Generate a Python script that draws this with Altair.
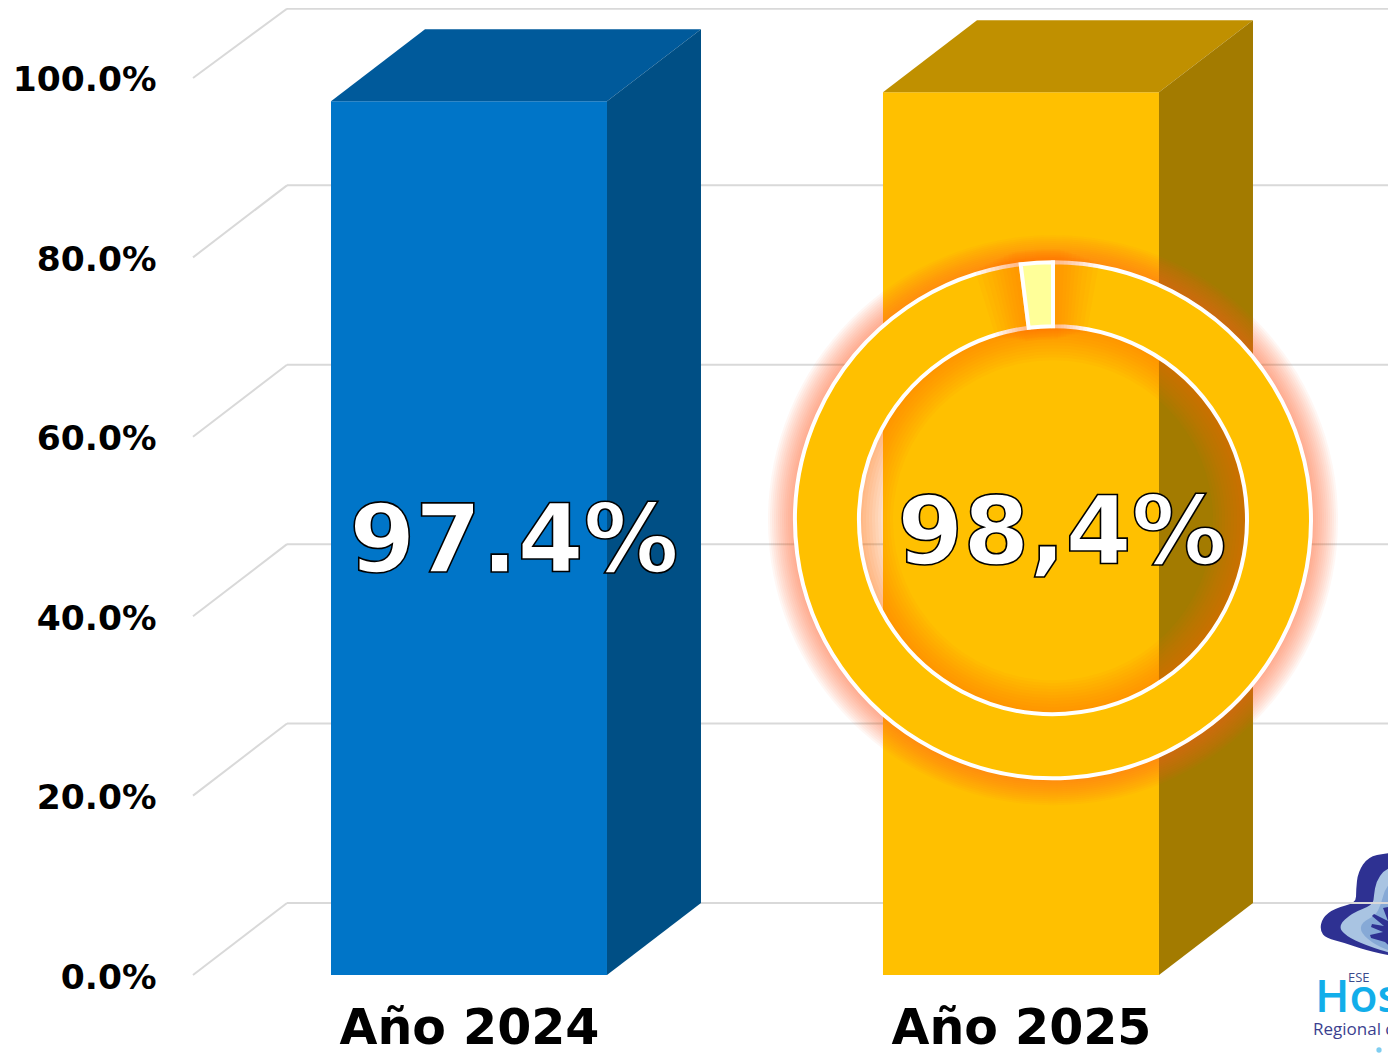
import math
import altair as alt
import pandas as pd

# ---- values ----
categories = ["Año 2024", "Año 2025"]
positions = [0.0, 1.0]
values = [0.974, 0.984]
value_labels = ["97.4%", "98,4%"]
front_colors = ["#0075C8", "#FFC000"]
top_colors = ["#005A9B", "#C09000"]
side_colors = ["#004F85", "#A37B00"]
y_ticks = [0.0, 0.2, 0.4, 0.6, 0.8, 1.0]
ring_main = [0.0, 98.0]
ring_small = [98.0, 100.0]

# ---- geometry in data units ----
half_bar = 0.25
depth_x = 0.1703
depth_y = 0.0803
x_domain = [-0.5, 1.6649]
y_domain = [0.0, 1.0780]
ring_x = 1.058
ring_y = 0.507
FONT = "DejaVu Sans"

X = alt.Scale(domain=x_domain, nice=False, zero=False, padding=0)
Y = alt.Scale(domain=y_domain, nice=False, zero=False, padding=0)
X_AXIS = alt.Axis(
    values=positions, grid=False, domain=False, ticks=False, title=None,
    labelExpr="datum.value == 0 ? 'Año 2024' : 'Año 2025'",
    labelFont=FONT, labelFontWeight="bold", labelFontSize=49, labelColor="#000000",
    labelPadding=29, labelBaseline="top", labelOverlap=False, labelLimit=600)
Y_AXIS = alt.Axis(
    values=y_ticks, format=".1%", grid=False, domain=False, ticks=False, title=None,
    labelFont=FONT, labelFontWeight="bold", labelFontSize=34.5, labelColor="#000000",
    labelPadding=37, labelOverlap=False, labelOffset=3)
xq = lambda f="x": alt.X(f"{f}:Q", scale=X, axis=X_AXIS)
yq = lambda f="y": alt.Y(f"{f}:Q", scale=Y, axis=Y_AXIS, stack=None)

# ---- back wall and floor lines ----
wall_top = y_domain[1] - 0.0008
grid_rows = [{"v": v, "x": x_domain[0] + depth_x, "x2": 1.5 + depth_x,
              "y": min(v + depth_y, wall_top)} for v in y_ticks]
diag_rows = []
for v in y_ticks:
    diag_rows.append({"v": v, "x": x_domain[0], "y": v})
    diag_rows.append({"v": v, "x": x_domain[0] + depth_x, "y": min(v + depth_y, wall_top)})

wall = alt.Chart(pd.DataFrame(grid_rows)).mark_rule(color="#D9D9D9", strokeWidth=2).encode(
    x=xq(), x2="x2:Q", y=yq())
diag = alt.Chart(pd.DataFrame(diag_rows)).mark_line(color="#D9D9D9", strokeWidth=2).encode(
    x=xq(), y=yq(), detail="v:Q")

# ---- bars ----
fronts, faces = [], []
for i, (p, v) in enumerate(zip(positions, values)):
    l, r = p - half_bar, p + half_bar
    fronts.append({"x": l, "x2": r, "y": 0.0, "y2": v, "c": front_colors[i]})
    faces += [
        {"f": f"top{i}", "c": top_colors[i], "x": l, "y": v, "y2": v},
        {"f": f"top{i}", "c": top_colors[i], "x": l + depth_x, "y": v + depth_y, "y2": v},
        {"f": f"top{i}", "c": top_colors[i], "x": r, "y": v + depth_y, "y2": v},
        {"f": f"top{i}", "c": top_colors[i], "x": r + depth_x, "y": v + depth_y, "y2": v + depth_y},
        {"f": f"side{i}", "c": side_colors[i], "x": r, "y": 0.0, "y2": v},
        {"f": f"side{i}", "c": side_colors[i], "x": r + depth_x, "y": depth_y, "y2": v + depth_y},
    ]
front = alt.Chart(pd.DataFrame(fronts)).mark_rect().encode(
    x=xq(), x2="x2:Q", y=yq(), y2="y2:Q", color=alt.Color("c:N", scale=None))
faces_ch = alt.Chart(pd.DataFrame(faces)).mark_area(interpolate="linear").encode(
    x=xq(), y=yq(), y2="y2:Q", color=alt.Color("c:N", scale=None), detail="f:N")

def big_label(i, dx, yv):
    d = pd.DataFrame({"x": [positions[i]], "y": [yv], "t": [value_labels[i]]})
    return alt.Chart(d).mark_text(
        font=FONT, fontWeight="bold", fontSize=95, fill="#FFFFFF", stroke="#000000",
        strokeWidth=1.6, align="center", baseline="middle", dx=dx).encode(
        x=xq(), y=yq(), text="t:N")

label_a = big_label(0, 45, 0.482)
label_b = big_label(1, 41, 0.490)

# ---- ring ----
cd = pd.DataFrame({"x": [ring_x], "y": [ring_y]})
TAU = 2 * math.pi
def ring_arc(**kw):
    return alt.Chart(cd).mark_arc(**kw).encode(x=xq(), y=yq())

glow = []
for r in range(285, 259, -2):
    glow.append(ring_arc(theta=0, theta2=TAU, radius=r, radius2=200, fill="#FF6A20", opacity=0.05))
for r in range(160, 192, 3):
    glow.append(ring_arc(theta=0, theta2=TAU, radius=205, radius2=r, fill="#FF6A00", opacity=0.055))

theta_scale = alt.Scale(domain=[0, 100], range=[0, TAU])
def slice_arc(a, b, color):
    d = pd.DataFrame({"x": [ring_x], "y": [ring_y], "a": [a], "b": [b]})
    return alt.Chart(d).mark_arc(radius=258, radius2=194, fill=color, stroke="#FFFFFF", strokeWidth=4).encode(
        x=xq(), y=yq(), theta=alt.Theta("a:Q", scale=theta_scale), theta2="b:Q")

main_slice = slice_arc(ring_main[0], ring_main[1], "#FFC000")
small_slice = slice_arc(ring_small[0], ring_small[1], "#FFFF99")

centre = TAU * 0.99
slice_glow = []
for k, half in enumerate([0.24, 0.22, 0.20, 0.18, 0.165, 0.15, 0.135, 0.12, 0.105, 0.09]):
    slice_glow.append(ring_arc(theta=centre - half, theta2=centre + half,
                               radius=262 + k, radius2=190 - k,
                               fill="#FF6A00", opacity=0.055))

# ---- logo ----
LOGO_CX, LOGO_CY = 1388, 905
def logo_path(pts, smooth=True):
    q = [((a - LOGO_CX) / 60, (b - LOGO_CY) / 60) for a, b in pts]
    if not smooth:
        return "M" + "L".join(f"{a:.3f},{b:.3f}" for a, b in q) + "Z"
    n = len(q)
    mid = lambda i: ((q[i][0] + q[(i + 1) % n][0]) / 2, (q[i][1] + q[(i + 1) % n][1]) / 2)
    m0 = mid(n - 1)
    s = f"M{m0[0]:.3f},{m0[1]:.3f}"
    for i in range(n):
        m = mid(i)
        s += f"Q{q[i][0]:.3f},{q[i][1]:.3f} {m[0]:.3f},{m[1]:.3f}"
    return s + "Z"

logo_dark = logo_path([(1440, 853), (1396, 853), (1386, 853), (1368, 857), (1358, 872), (1356, 890),
                       (1356, 903), (1335, 908), (1322, 918), (1320, 931), (1326, 938), (1345, 943),
                       (1365, 950), (1396, 957), (1440, 960)])
logo_mid = logo_path([(1440, 868), (1396, 866), (1384, 870), (1376, 882), (1374, 895), (1373, 905),
                      (1352, 913), (1338, 926), (1346, 936), (1365, 945), (1396, 955), (1440, 958)])
logo_light = logo_path([(1440, 880), (1396, 878), (1385, 888), (1381, 905), (1375, 916), (1362, 922),
                        (1360, 932), (1375, 945), (1396, 953), (1440, 955)])
logo_hand = logo_path([(1383, 908), (1388, 907), (1394, 921), (1396, 921), (1396, 952), (1385, 942),
                       (1371, 938), (1370, 935), (1383, 932), (1371, 927), (1372, 924), (1384, 926),
                       (1372, 916), (1374, 914), (1388, 921)], smooth=False)
logo_d = pd.DataFrame({"x": [x_domain[1]], "y": [0.078]})
def logo_shape(path, color):
    return alt.Chart(logo_d).mark_point(shape=path, filled=True, size=14400, fill=color,
                                        opacity=1, strokeWidth=0).encode(x=xq(), y=yq())

def logo_text(t, xv, yv, size, color, weight=400):
    d = pd.DataFrame({"x": [xv], "y": [yv], "t": [t]})
    return alt.Chart(d).mark_text(text=t, font="Open Sans", fontSize=size, fill=color, fontWeight=weight,
                                  align="left", baseline="alphabetic").encode(x=xq(), y=yq())

logo_texts = [
    logo_text("ESE", 1.5924, -0.0078, 13, "#3B4A8C"),
    logo_text("Hospital", 1.5326, -0.0412, 46, "#12AEEA", 600),
    logo_text("Regional de", 1.5290, -0.0669, 17, "#3B3F8F"),
]
dots = alt.Chart(pd.DataFrame({"x": [1.6486], "y": [-0.0836], "c": ["#7FCDF0"]})
                 ).mark_circle(size=28, opacity=1).encode(x=xq(), y=yq(), color=alt.Color("c:N", scale=None))

layers = [logo_shape(logo_dark, "#2E3192"), logo_shape(logo_mid, "#A9C4E2"),
          logo_shape(logo_light, "#86A9D6"), logo_shape(logo_hand, "#2E3192")]
layers += logo_texts + [dots, wall, diag, front, faces_ch, label_a]
layers += glow + [main_slice] + slice_glow + [small_slice, label_b]

chart = alt.layer(*layers).resolve_scale(theta="independent").properties(
    width=1195, height=967,
    padding={"left": 185, "top": 0, "right": 0, "bottom": 84},
    autosize=alt.AutoSizeParams(type="none"),
    background="#FFFFFF",
).configure_view(stroke=None)

chart.save("out.html", embed_options={"renderer": "svg", "actions": False})
